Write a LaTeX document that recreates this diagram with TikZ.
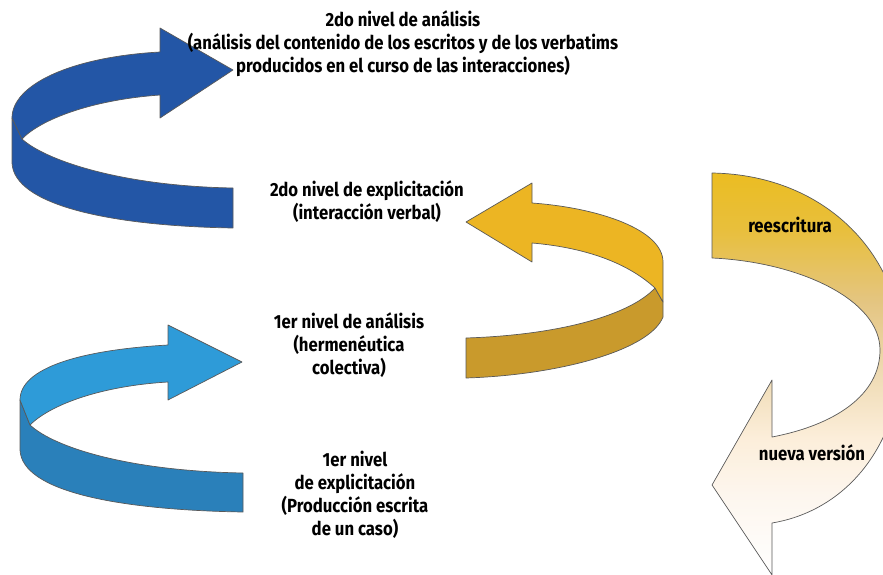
\documentclass[tikz,border=0pt]{standalone}
\usepackage{fontspec}
\newfontfamily\lblfont{Fira Sans}[FakeStretch=0.88]
\definecolor{navyband}{HTML}{2356A6}
\definecolor{skyband}{HTML}{2E9BD8}
\definecolor{skyfront}{HTML}{2A80BA}
\definecolor{goldband}{HTML}{ECB523}
\definecolor{goldfront}{HTML}{C99A2C}
% vertical fade of the rewriting arrow, gold at the top to white at the bottom
\pgfdeclareverticalshading{goldfade}{100bp}{%
  color(0bp)=(white); color(25bp)=(white);
  color(35bp)=(rgb,255:red,253;green,246;blue,238);
  color(42bp)=(rgb,255:red,252;green,238;blue,218);
  color(50bp)=(rgb,255:red,239;green,219;blue,180);
  color(59bp)=(rgb,255:red,228;green,197;blue,129);
  color(68bp)=(rgb,255:red,232;green,191;blue,60);
  color(75bp)=(rgb,255:red,235;green,189;blue,34);
  color(100bp)=(rgb,255:red,235;green,189;blue,34)}
\begin{document}
\begin{tikzpicture}[x=1pt,y=-1pt,
  lbl/.style={font=\lblfont\bfseries\fontsize{19}{23}\selectfont, align=center, inner sep=0pt},
  band/.style={draw=black!65, line width=0.7pt, line join=round}]
\useasboundingbox (0,0) rectangle (883,575);

% upper dark-blue curved arrow: front strip, then back strip with head
\filldraw[band, fill=navyband] (12,118) -- (12,163)
  .. controls (14,205) and (110,226) .. (233,228) -- (233,188)
  .. controls (120,186) and (45,160) .. (22,139) -- cycle;
\filldraw[band, fill=navyband] (12,118)
  .. controls (12,85) and (70,57) .. (160,52) -- (160,28) -- (233,70)
  -- (160,118) -- (160,95)
  .. controls (90,100) and (40,120) .. (22,139) -- cycle;

% lower light-blue curved arrow
\filldraw[band, fill=skyfront] (20,400) -- (20,450)
  .. controls (22,492) and (120,510) .. (243,512) -- (243,473)
  .. controls (130,471) and (55,448) .. (30,425) -- cycle;
\filldraw[band, fill=skyband] (20,400)
  .. controls (20,368) and (80,350) .. (168,345) -- (168,325) -- (242,362)
  -- (168,400) -- (168,382)
  .. controls (100,386) and (50,405) .. (30,425) -- cycle;

% middle golden curved arrow pointing left
\filldraw[band, fill=goldfront] (655,288) -- (663,302) -- (663,317)
  .. controls (650,350) and (560,375) .. (466,378) -- (466,338)
  .. controls (560,335) and (630,315) .. (655,288) -- cycle;
\filldraw[band, fill=goldband] (532,203)
  .. controls (600,208) and (663,230) .. (663,262) -- (663,302) -- (655,288)
  .. controls (630,265) and (590,248) .. (532,243) -- (532,262)
  -- (466,222) -- (532,183) -- cycle;

% right-hand rewriting arrow, fading downwards
\begin{scope}
\clip (0,0) rectangle (883,575);
\draw[band, shading=goldfade]
  (712,173) .. controls (830,175) and (902,260) .. (902,350)
  .. controls (902,440) and (850,510) .. (772,523) -- (772,575)
  -- (712,485) -- (772,380) -- (772,437)
  .. controls (835,425) and (880,395) .. (880,350)
  .. controls (880,300) and (800,262) .. (712,258) -- cycle;
\end{scope}

% labels
\node[lbl] (analisisdos) at (403,44) {2do nivel de análisis\\(análisis del contenido de los escritos y de los verbatims\\producidos en el curso de las interacciones)};
\node[lbl] (explicdos) at (367,202) {2do nivel de explicitación\\(interacción verbal)};
\node[lbl] (analisisuno) at (349,345) {1er nivel de análisis\\(hermenéutica\\colectiva)};
\node[lbl] (explicuno) at (355,495) {1er nivel\\de explicitación\\(Producción escrita\\de un caso)};
\node[lbl] (reescr) at (790,225) {reescritura};
\node[lbl] (nueva) at (812,453) {nueva versión};
\end{tikzpicture}
\end{document}
